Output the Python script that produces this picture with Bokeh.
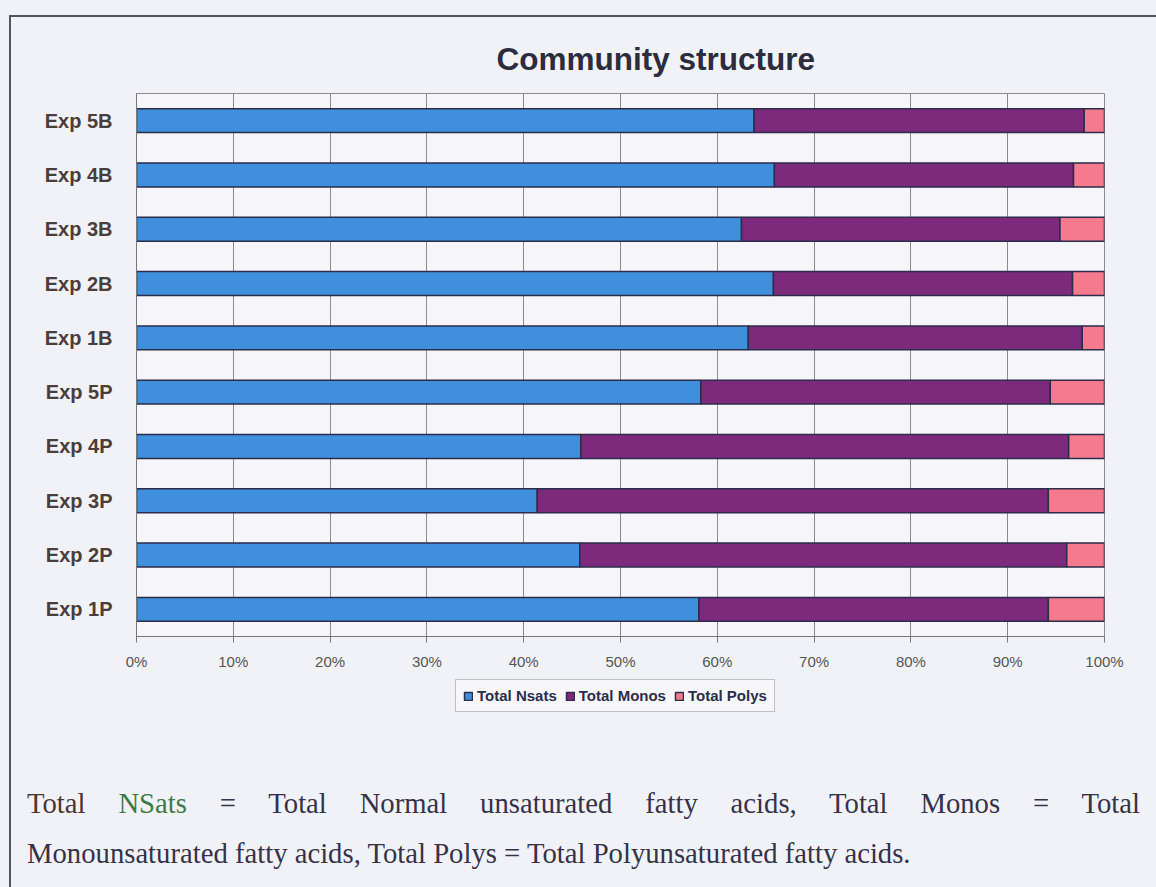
from bokeh.plotting import figure
from bokeh.models import (FactorRange, FixedTicker, PrintfTickFormatter, Legend, LegendItem,
                          Div, Spacer, ColumnDataSource)
from bokeh.layouts import column, row
from bokeh.embed import file_html
from bokeh.resources import INLINE

# ---- data (percent of total fatty acids) ----
categories = ["Exp 1P", "Exp 2P", "Exp 3P", "Exp 4P", "Exp 5P",
              "Exp 1B", "Exp 2B", "Exp 3B", "Exp 4B", "Exp 5B"]
total_nsats = [58.1, 45.8, 41.4, 45.9, 58.3, 63.2, 65.8, 62.5, 65.9, 63.8]
total_monos = [36.1, 50.3, 52.8, 50.4, 36.1, 34.5, 30.9, 32.9, 30.9, 34.1]
total_polys = [5.8, 3.9, 5.8, 3.7, 5.6, 2.3, 3.3, 4.6, 3.2, 2.1]
series = ["Total Nsats", "Total Monos", "Total Polys"]
x_ticks = [0, 10, 20, 30, 40, 50, 60, 70, 80, 90, 100]

BG = "#f1f2f8"
PLOT_BG = "#f5f5fa"
colors = ["#3f8fdd", "#7e2a7c", "#f57a8e"]
OUTLINE = "#2b2d4a"
FONT = "Liberation Sans"
NAN = float("nan")

src = ColumnDataSource(dict(cat=categories, nsats=total_nsats, monos=total_monos, polys=total_polys))

# ---- main chart ----
p = figure(width=1145, height=659, y_range=FactorRange(*categories), x_range=(0, 100),
           output_backend="svg", toolbar_location=None,
           min_border_left=125, min_border_right=52, min_border_top=76, min_border_bottom=40)
p.background_fill_color = PLOT_BG
p.border_fill_color = BG
p.outline_line_color = "#8a8a8a"
p.outline_line_width = 1

p.hbar_stack(["nsats", "monos", "polys"], y="cat", height=0.44, source=src,
             color=colors, line_color=OUTLINE, line_width=1.5)

p.title.text = "Community structure"
p.title.text_font = FONT
p.title.text_font_size = "31.5px"
p.title.text_font_style = "bold"
p.title.text_color = "#2b2d3e"
p.title.align = "left"
p.title.offset = 360
p.title.standoff = 33

p.xaxis.ticker = FixedTicker(ticks=x_ticks)
p.xaxis.formatter = PrintfTickFormatter(format="%d%%")
p.xaxis.major_label_text_font = FONT
p.xaxis.major_label_text_font_size = "15px"
p.xaxis.major_label_text_color = "#555555"
p.xaxis.major_tick_in = 0
p.xaxis.major_tick_out = 6
p.xaxis.major_label_standoff = 10
p.xaxis.axis_line_color = "#777777"
p.xaxis.major_tick_line_color = "#777777"
p.xaxis.minor_tick_line_color = None

p.yaxis.major_label_text_font = FONT
p.yaxis.major_label_text_font_size = "20px"
p.yaxis.major_label_text_font_style = "bold"
p.yaxis.major_label_text_color = "#4b3d3a"
p.yaxis.major_tick_line_color = None
p.yaxis.major_label_standoff = 18
p.yaxis.axis_line_color = "#777777"

p.xgrid.grid_line_color = "#8a8a8a"
p.xgrid.grid_line_width = 1
p.xgrid.ticker = FixedTicker(ticks=x_ticks)
p.ygrid.grid_line_color = None

# ---- legend strip (separate small figure below the chart) ----
lg = figure(width=1145, height=76, x_range=(0, 1), y_range=(0, 1),
            x_axis_location=None, y_axis_location=None,
            output_backend="svg", toolbar_location=None,
            min_border_left=0, min_border_right=0, min_border_top=0, min_border_bottom=0)
lg.grid.visible = False
lg.outline_line_color = None
lg.background_fill_color = BG
lg.border_fill_color = BG
items = []
for s, c in zip(series, colors):
    # placeholder glyph (no visible mark) used only for the legend swatch
    r = lg.quad(left=[NAN], right=[NAN], top=[NAN], bottom=[NAN],
                fill_color=c, line_color=OUTLINE, line_width=1.5)
    items.append(LegendItem(label=s, renderers=[r]))
legend = Legend(items=items, orientation="horizontal", location=(319, 40),
                label_text_font=FONT, label_text_font_size="15px", label_text_font_style="bold",
                label_text_color="#2b2d4a", glyph_width=10, glyph_height=10,
                spacing=8, label_standoff=4, padding=7, margin=0,
                border_line_color="#8a8a8a", background_fill_color="#f7f7fb",
                label_height=13)
lg.add_layout(legend)

# ---- footnote ----
txt = Div(width=1135, height=130, text=(
    "<div style=\"font-family:'Liberation Serif'; font-size:28.7px; color:#35324a; "
    "line-height:50px; padding-left:11px; padding-top:21px; width:1124px;\">"
    "<div style=\"text-align:justify; text-align-last:justify;\">"
    "<span style=\"color:#4a3636\">Total</span> <span style=\"color:#3e7a45\">NSats</span> "
    "= Total Normal unsaturated fatty acids, Total Monos = Total</div>"
    "<div>Monounsaturated fatty acids, Total Polys = Total Polyunsaturated fatty acids.</div>"
    "</div>"))

inner = column(p, lg, txt, styles={"border-left": "2px solid #555560", "border-top": "2px solid #555560",
                                   "background-color": BG})
root = column(Spacer(height=15), row(Spacer(width=9), inner),
              styles={"background-color": BG})

open("out.html", "w").write(file_html(root, INLINE))
